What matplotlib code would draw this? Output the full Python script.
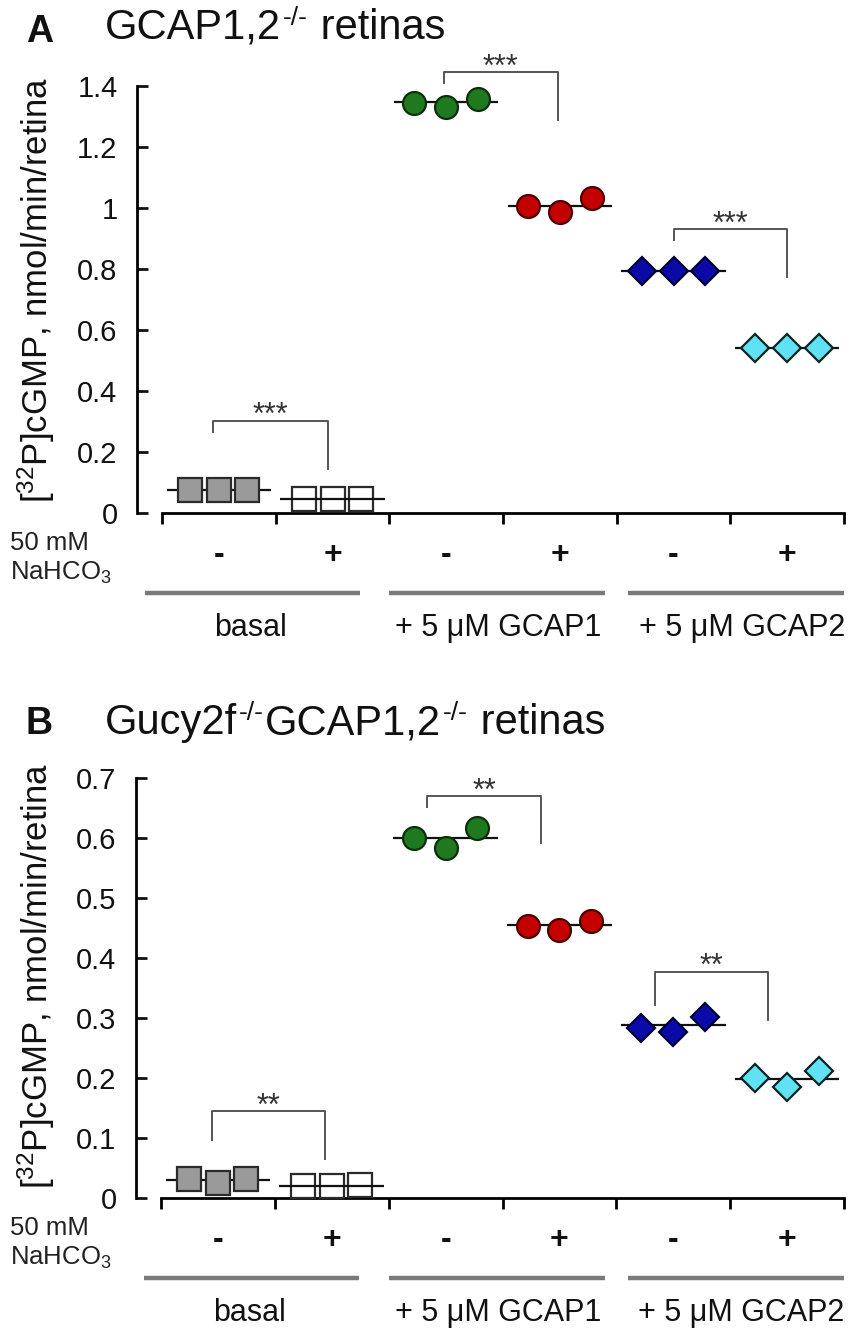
import matplotlib
matplotlib.use("Agg")
import matplotlib.pyplot as plt
import matplotlib.transforms as mtransforms

plt.rcParams['font.family'] = ['Liberation Sans', 'DejaVu Sans']
plt.rcParams['mathtext.fontset'] = 'custom'
plt.rcParams['mathtext.rm'] = 'Liberation Sans'
plt.rcParams['mathtext.it'] = 'Liberation Sans:italic'
plt.rcParams['mathtext.bf'] = 'Liberation Sans:bold'

# ---------------- data ----------------
categories = ["basal -", "basal +", "GCAP1 -", "GCAP1 +", "GCAP2 -", "GCAP2 +"]
bicarb_labels = ["-", "+", "-", "+", "-", "+"]
group_labels = ["basal", "+ 5 \u03bcM GCAP1", "+ 5 \u03bcM GCAP2"]

# Panel A: GCAP1,2-/- retinas (3 replicates per condition) and means
a_points = [
    [0.075, 0.075, 0.075],
    [0.047, 0.047, 0.047],
    [1.344, 1.331, 1.357],
    [1.005, 0.987, 1.033],
    [0.793, 0.793, 0.793],
    [0.541, 0.541, 0.541],
]
a_means = [0.075, 0.047, 1.346, 1.008, 0.793, 0.541]
a_yticks = [0, 0.2, 0.4, 0.6, 0.8, 1.0, 1.2, 1.4]
a_yticklabels = ["0", "0.2", "0.4", "0.6", "0.8", "1", "1.2", "1.4"]

# Panel B: Gucy2f-/-GCAP1,2-/- retinas
b_points = [
    [0.032, 0.025, 0.032],
    [0.020, 0.020, 0.021],
    [0.600, 0.583, 0.617],
    [0.453, 0.447, 0.462],
    [0.283, 0.277, 0.302],
    [0.200, 0.185, 0.212],
]
b_means = [0.030, 0.020, 0.600, 0.455, 0.288, 0.198]
b_yticks = [0, 0.1, 0.2, 0.3, 0.4, 0.5, 0.6, 0.7]
b_yticklabels = ["0", "0.1", "0.2", "0.3", "0.4", "0.5", "0.6", "0.7"]

# significance brackets: (x_left, x_right, y_top, y_left_end, y_right_end, label)
a_brackets = [
    (0.45, 1.46, 0.302, 0.266, 0.144, "***"),
    (2.48, 3.48, 1.446, 1.410, 1.289, "***"),
    (4.50, 5.50, 0.931, 0.895, 0.774, "***"),
]
b_brackets = [
    (0.45, 1.44, 0.145, 0.097, 0.065, "**"),
    (2.34, 3.34, 0.670, 0.652, 0.592, "**"),
    (4.34, 5.33, 0.377, 0.322, 0.297, "**"),
]

# title pieces: (normal text, superscript)
a_title = [("GCAP1,2", "-/-"), (" retinas", "")]
b_title = [("Gucy2f", "-/-"), ("GCAP1,2", "-/-"), (" retinas", "")]

# marker styles per condition: (marker, face, edge, size)
styles = [
    ('s', '#9a9a9a', '#2a2a2a', 17.0),
    ('s', 'none', '#2a2a2a', 17.0),
    ('o', '#1f7a1f', '#0b2f0b', 16.5),
    ('o', '#c40000', '#4a0000', 16.5),
    ('D', '#0a0aa8', '#000033', 14.5),
    ('D', '#5fe3f2', '#0b2222', 14.5),
]
offsets = [[-0.25, 0, 0.25], [-0.25, 0, 0.25],
           [-0.28, 0, 0.28], [-0.28, 0, 0.28],
           [-0.28, 0, 0.28], [-0.28, 0, 0.28]]

W, H = 856, 1331
fig = plt.figure(figsize=(W / 100, H / 100), dpi=100)
renderer = fig.canvas.get_renderer()


def add_axes_px(left, right, top, bottom):
    return fig.add_axes([left / W, 1 - bottom / H, (right - left) / W, (bottom - top) / H])


def fy(ypx):
    return 1 - ypx / H


def draw_title(pieces, xpx, baseline_px, size, sup_size, raise_px):
    x = xpx
    for main, sup in pieces:
        t = fig.text(x / W, fy(baseline_px), main, ha='left', va='baseline',
                     fontsize=size, color='#111111')
        x += t.get_window_extent(renderer).width
        if sup:
            s = fig.text((x + 2) / W, fy(baseline_px - raise_px), sup, ha='left',
                         va='baseline', fontsize=sup_size, color='#111111')
            x += s.get_window_extent(renderer).width + 3


def draw_panel(ax, points, means, yticks, yticklabels, ymax, brackets,
               letter, title_pieces, y0px, ylab_center, letter_base, title_base):
    ax.set_xlim(-0.22, 6.0)
    ax.set_ylim(0, ymax)
    for s in ['top', 'right']:
        ax.spines[s].set_visible(False)
    ax.spines['left'].set_linewidth(2.0)
    ax.spines['bottom'].set_linewidth(2.0)
    ax.spines['left'].set_bounds(0, ymax)
    ax.spines['bottom'].set_bounds(0, 6)
    ax.set_yticks(yticks)
    ax.set_yticklabels(yticklabels)
    ax.set_xticks(range(7))
    ax.set_xticklabels([])
    ax.tick_params(axis='y', direction='in', length=8, width=2.0, pad=14,
                   labelsize=21, colors='#111111')
    ax.tick_params(axis='x', direction='out', length=8, width=2.0)

    for i, (pts, m) in enumerate(zip(points, means)):
        c = i + 0.5
        mk, fc, ec, ms = styles[i]
        ax.plot([c - 0.46, c + 0.46], [m, m], color='#111111', lw=1.6,
                zorder=2 if fc != 'none' else 4, solid_capstyle='butt')
        xs = [c + o for o in offsets[i]]
        ax.plot(xs, pts, linestyle='none', marker=mk, markersize=ms,
                markerfacecolor=fc, markeredgecolor=ec, markeredgewidth=1.6,
                zorder=3, clip_on=False)

    for (x1, x2, yt, yl, yr, lab) in brackets:
        ax.plot([x1, x1, x2, x2], [yl, yt, yt, yr], color='#555555', lw=1.4,
                clip_on=False, zorder=1)
        ax.annotate(lab, xy=((x1 + x2) / 2, yt), xytext=(0, -2.5),
                    textcoords='offset points', ha='center', va='baseline',
                    fontsize=22, color='#333333', annotation_clip=False)

    trans = mtransforms.blended_transform_factory(ax.transData, fig.transFigure)
    for i, lab in enumerate(bicarb_labels):
        ax.text(i + 0.5, fy(y0px + 42), lab, transform=trans, ha='center',
                va='center', fontsize=23, fontweight='bold', color='#111111')
    spans = [(-0.15, 1.74), (2.0, 3.9), (4.1, 6.0)]
    centers = [0.78, 2.96, 5.1]
    for (s0, s1), cx, g in zip(spans, centers, group_labels):
        ax.plot([s0, s1], [fy(y0px + 80)] * 2, transform=trans, color='#7a7a7a',
                lw=3.2, clip_on=False, solid_capstyle='butt')
        ax.text(cx, fy(y0px + 115), g, transform=trans, ha='center', va='center',
                fontsize=22, color='#111111')

    fig.text(10 / W, fy(y0px + 30), "50 mM", ha='left', va='center',
             fontsize=18.5, color='#222222')
    fig.text(10 / W, fy(y0px + 60), "NaHCO$_3$", ha='left', va='center',
             fontsize=18.5, color='#222222')
    fig.text(36 / W, fy(ylab_center), "[$^{32}$P]cGMP, nmol/min/retina",
             rotation=90, ha='center', va='center', fontsize=25, color='#111111')
    fig.text(26 / W, fy(letter_base), letter, ha='left', va='baseline',
             fontsize=27, fontweight='bold', color='#111111')
    draw_title(title_pieces, 105, title_base, 30, 19, 14)


axA = add_axes_px(137, 844, 86, 513)
draw_panel(axA, a_points, a_means, a_yticks, a_yticklabels, 1.4, a_brackets,
           "A", a_title, 513, 290, 42, 39)

axB = add_axes_px(136, 844, 778, 1198)
draw_panel(axB, b_points, b_means, b_yticks, b_yticklabels, 0.7, b_brackets,
           "B", b_title, 1198, 976, 734, 734)

fig.savefig("out.png", dpi=100)
